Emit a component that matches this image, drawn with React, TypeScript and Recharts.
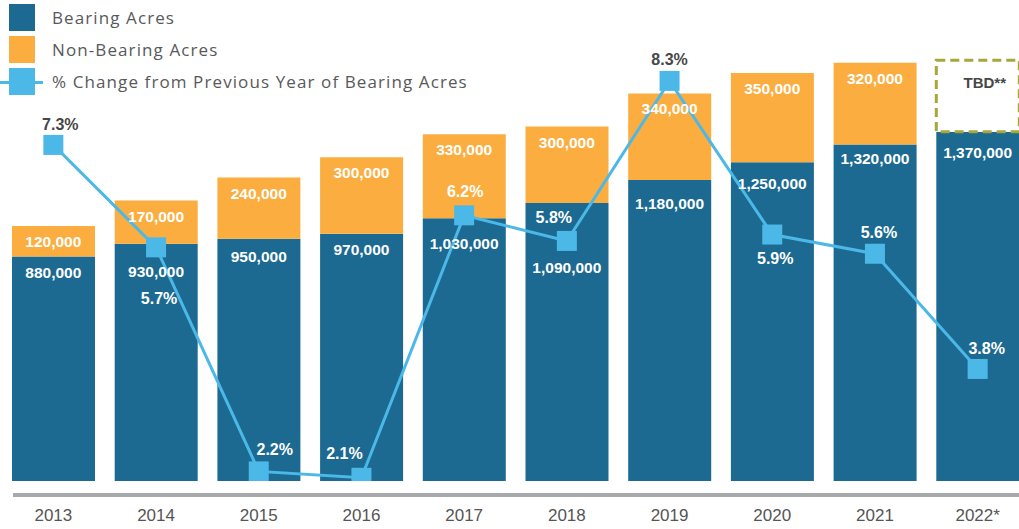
import { ComposedChart, Bar, Line, XAxis, YAxis, LabelList } from "recharts";

const years = ["2013", "2014", "2015", "2016", "2017", "2018", "2019", "2020", "2021", "2022*"];
const bearing = [880000, 930000, 950000, 970000, 1030000, 1090000, 1180000, 1250000, 1320000, 1370000];
const nonBearing = [120000, 170000, 240000, 300000, 330000, 300000, 340000, 350000, 320000, null];
const tbd = [null, null, null, null, null, null, null, null, null, 280000];
const pctChange = [7.3, 5.7, 2.2, 2.1, 6.2, 5.8, 8.3, 5.9, 5.6, 3.8];

const BLUE = "#1c6a91";
const ORANGE = "#fbae3f";
const LIGHT = "#4cb8e8";
const OLIVE = "#a8a73a";
const DARK = "#474747";

// label nudges
const bearingLabelDy = [16, 28, 18, 16, 25, 64, 23, 21, 14, 21];
const pctLabelShift: [number, number][] = [
  [7, -20], [3, 51], [16, -22], [-17, -24], [1, -24],
  [-13, -23], [0, -21], [3, 24], [4, -21], [9, -20],
];

const data = years.map((year, i) => ({
  year,
  bearing: bearing[i],
  nonBearing: nonBearing[i],
  tbd: tbd[i],
  total: nonBearing[i] == null ? null : bearing[i] + (nonBearing[i] as number),
  pct: pctChange[i],
}));

const fmt = (v: number) => v.toLocaleString("en-US");
const labelFont = { fontFamily: "Liberation Sans, Arial, sans-serif", fontWeight: 700, fontSize: 15.5 };

const SquareDot = (props: any) => {
  const { cx, cy, index } = props;
  if (cx == null || cy == null) return null;
  return <rect key={`dot-${index}`} x={cx - 10} y={cy - 10} width={20} height={20} fill={LIGHT} />;
};

const BearingLabel = (props: any) => {
  const { x, y, index } = props;
  if (x == null || y == null) return null;
  return (
    <text x={x} y={y + bearingLabelDy[index]} textAnchor="middle" dominantBaseline="central" fill="#fff" style={labelFont}>
      {fmt(bearing[index])}
    </text>
  );
};

const NonBearingLabel = (props: any) => {
  const { x, y, index } = props;
  const v = nonBearing[index];
  if (x == null || y == null || v == null) return null;
  return (
    <text x={x} y={y + 15.5} textAnchor="middle" dominantBaseline="central" fill="#fff" style={labelFont}>
      {fmt(v)}
    </text>
  );
};

const PctLabel = (props: any) => {
  const { x, y, index } = props;
  if (x == null || y == null) return null;
  const [dx, dy] = pctLabelShift[index];
  const dark = index === 0 || index === 6;
  return (
    <text x={x + dx} y={y + dy} textAnchor="middle" dominantBaseline="central" fill={dark ? DARK : "#fff"}
      style={{ ...labelFont, fontSize: 16 }}>
      {pctChange[index].toFixed(1)}%
    </text>
  );
};

const TbdLabel = (props: any) => {
  const { x, y, width, value } = props;
  if (value == null) return null;
  return (
    <text x={x + width / 2 + 7} y={y + 22} textAnchor="middle" dominantBaseline="central" fill={DARK}
      style={{ ...labelFont, fontSize: 15 }}>
      TBD**
    </text>
  );
};

const legendText = { fontFamily: "Open Sans, sans-serif", fontSize: 17, letterSpacing: "1.1px", color: "#58595b" };

export default function App() {
  return (
    <div style={{ position: "absolute", left: 0, top: 0, width: 1019, height: 529, overflow: "hidden", background: "#fff" }}>
      <ComposedChart width={1030} height={529} data={data} margin={{ top: 22, right: 1, left: 2, bottom: 0 }}>
        <XAxis
          dataKey="year"
          axisLine={false}
          tickLine={false}
          tickSize={0}
          tickMargin={28}
          height={48}
          interval={0}
          tick={{ fill: "#555", fontSize: 17, fontFamily: "Liberation Sans, Arial, sans-serif" }}
        />
        <YAxis yAxisId="left" hide domain={[0, 1800000]} />
        <YAxis yAxisId="right" hide orientation="right" domain={[2.05, 9.22]} allowDataOverflow />
        <Bar yAxisId="left" dataKey="bearing" stackId="a" fill={BLUE} barSize={83} isAnimationActive={false} />
        <Bar yAxisId="left" dataKey="nonBearing" stackId="a" fill={ORANGE} barSize={83} isAnimationActive={false} />
        <Bar yAxisId="left" dataKey="tbd" stackId="a" fill="#fff" stroke={OLIVE} strokeWidth={3}
          strokeDasharray="9 5" barSize={83} isAnimationActive={false}>
          <LabelList dataKey="tbd" content={TbdLabel} />
        </Bar>
        <Line yAxisId="left" dataKey="bearing" stroke="none" dot={false} activeDot={false} isAnimationActive={false}>
          <LabelList dataKey="bearing" content={BearingLabel} />
        </Line>
        <Line yAxisId="left" dataKey="total" stroke="none" dot={false} activeDot={false} isAnimationActive={false}>
          <LabelList dataKey="total" content={NonBearingLabel} />
        </Line>
        <Line yAxisId="right" type="linear" dataKey="pct" stroke={LIGHT} strokeWidth={3} dot={SquareDot}
          activeDot={false} isAnimationActive={false}>
          <LabelList dataKey="pct" content={PctLabel} />
        </Line>
      </ComposedChart>

      <div style={{ position: "absolute", left: 13, top: 493, width: 1006, height: 4, background: "#a7a8aa" }} />

      <div style={{ position: "absolute", left: 0, top: 0, width: 520, height: 100 }}>
        <div style={{ position: "absolute", left: 9, top: 4, width: 26, height: 27, background: BLUE }} />
        <div style={{ position: "absolute", left: 52, top: 4, height: 27, lineHeight: "27px", whiteSpace: "nowrap", ...legendText }}>Bearing Acres</div>
        <div style={{ position: "absolute", left: 9, top: 36, width: 26, height: 27, background: ORANGE }} />
        <div style={{ position: "absolute", left: 52, top: 36, height: 27, lineHeight: "27px", whiteSpace: "nowrap", ...legendText }}>Non-Bearing Acres</div>
        <div style={{ position: "absolute", left: 0, top: 81, width: 43, height: 3, background: LIGHT }} />
        <div style={{ position: "absolute", left: 9, top: 68, width: 26, height: 27, background: LIGHT }} />
        <div style={{ position: "absolute", left: 52, top: 68, height: 27, lineHeight: "27px", whiteSpace: "nowrap", ...legendText }}>
          % Change from Previous Year of Bearing Acres
        </div>
      </div>
    </div>
  );
}
